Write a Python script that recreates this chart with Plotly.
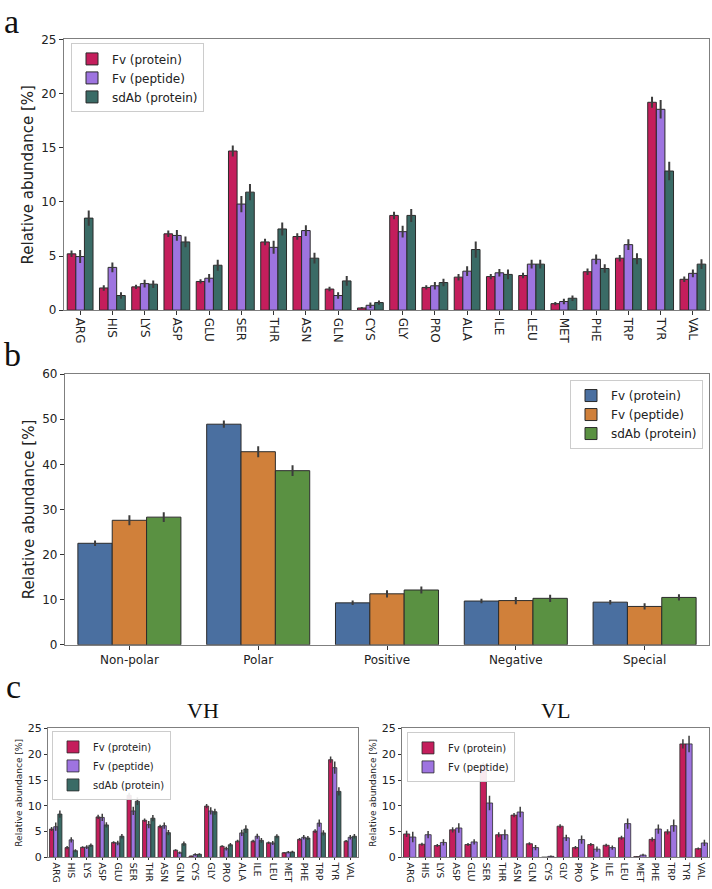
import plotly.graph_objects as go

aa = ["ARG","HIS","LYS","ASP","GLU","SER","THR","ASN","GLN","CYS",
      "GLY","PRO","ALA","ILE","LEU","MET","PHE","TRP","TYR","VAL"]

# Panel a: whole Fv / sdAb
a_fv_prot = [5.2,2.05,2.15,7.05,2.65,14.7,6.3,6.8,1.95,0.2,8.75,2.1,3.05,3.1,3.2,0.6,3.55,4.8,19.2,2.85]
a_fv_pep  = [4.95,3.95,2.45,6.9,2.95,9.8,5.8,7.35,1.35,0.45,7.25,2.25,3.6,3.45,4.25,0.8,4.7,6.05,18.55,3.4]
a_sdab    = [8.5,1.35,2.4,6.3,4.15,10.9,7.5,4.8,2.7,0.7,8.75,2.55,5.6,3.3,4.25,1.1,3.85,4.75,12.85,4.25]
a_fv_prot_err = [0.3,0.25,0.2,0.3,0.2,0.5,0.3,0.3,0.2,0.1,0.35,0.2,0.3,0.25,0.25,0.15,0.3,0.3,0.5,0.25]
a_fv_pep_err  = [0.6,0.45,0.35,0.5,0.4,0.75,0.6,0.5,0.3,0.25,0.55,0.35,0.45,0.35,0.4,0.25,0.45,0.5,0.85,0.35]
a_sdab_err    = [0.7,0.3,0.35,0.5,0.5,0.75,0.6,0.5,0.45,0.2,0.6,0.35,0.75,0.45,0.4,0.25,0.4,0.5,0.85,0.45]

# Panel b: residue classes
classes = ["Non-polar","Polar","Positive","Negative","Special"]
b_fv_prot = [22.5,48.9,9.3,9.7,9.45]
b_fv_pep  = [27.6,42.8,11.3,9.8,8.5]
b_sdab    = [28.3,38.6,12.15,10.3,10.5]
b_fv_prot_err = [0.6,0.8,0.5,0.5,0.5]
b_fv_pep_err  = [1.1,1.2,0.8,0.8,0.7]
b_sdab_err    = [1.1,1.2,0.8,0.8,0.7]

# Panel c: VH
vh_fv_prot = [5.5,1.9,1.95,7.85,2.9,12.05,7.2,6.0,1.4,0.25,9.95,2.15,3.15,3.15,2.85,0.9,3.5,5.1,18.95,3.15]
vh_fv_pep  = [5.95,3.4,2.0,7.75,2.8,9.0,6.35,6.15,0.9,0.55,9.0,1.7,4.75,4.1,2.8,1.0,3.9,6.65,17.4,3.9]
vh_sdab    = [8.4,1.3,2.35,6.3,4.1,10.9,7.6,4.8,2.65,0.6,8.85,2.45,5.5,3.3,4.1,1.05,3.75,4.75,12.8,4.1]
vh_fv_prot_err = [0.4,0.3,0.2,0.4,0.25,0.5,0.35,0.35,0.2,0.1,0.4,0.2,0.25,0.25,0.25,0.15,0.25,0.35,0.6,0.2]
vh_fv_pep_err  = [0.8,0.5,0.35,0.7,0.45,0.8,0.7,0.6,0.25,0.25,0.7,0.35,0.6,0.5,0.4,0.25,0.45,0.7,1.2,0.45]
vh_sdab_err    = [0.7,0.3,0.35,0.5,0.45,0.75,0.6,0.5,0.45,0.2,0.6,0.35,0.75,0.45,0.4,0.25,0.4,0.5,0.8,0.45]

# Panel c: VL
vl_fv_prot = [4.55,2.55,2.3,5.35,2.5,18.0,4.4,8.2,2.65,0.05,6.05,1.9,2.5,2.35,3.8,0.15,3.5,4.95,22.0,1.7]
vl_fv_pep  = [3.95,4.4,2.9,5.7,3.0,10.55,4.4,8.8,1.9,0.2,3.8,3.45,1.6,1.9,6.55,0.45,5.5,6.15,22.0,2.8]
vl_fv_prot_err = [0.6,0.3,0.3,0.5,0.3,0.4,0.5,0.4,0.3,0.05,0.4,0.3,0.3,0.3,0.4,0.1,0.4,0.5,0.9,0.2]
vl_fv_pep_err  = [1.0,0.7,0.6,0.9,0.5,1.4,1.0,1.0,0.5,0.15,0.6,0.8,0.5,0.4,1.0,0.25,0.9,1.2,1.6,0.6]

series_names = ["Fv (protein)", "Fv (peptide)", "sdAb (protein)"]
col_a = ["#C41E5C", "#9E74E0", "#3A6B66"]
col_b = ["#4A6FA0", "#D0803A", "#5A9142"]

W, H = 712, 889
def xd(x0, x1): return [x0 / W, x1 / W]
def yd(top, bot): return [1 - bot / H, 1 - top / H]

fig = go.Figure()

def add_bars(x, vals, errs, colors, xa, ya, legend, lw=1.0, ethick=2.0):
    for i, (v, e) in enumerate(zip(vals, errs)):
        fig.add_trace(go.Bar(
            x=x, y=v, name=series_names[i], xaxis=xa, yaxis=ya, legend=legend,
            marker=dict(color=colors[i], line=dict(color="#2b2b2b", width=lw)),
            error_y=dict(type="data", array=e, color="#3c3c3c", thickness=ethick, width=0),
        ))

add_bars(aa, [a_fv_prot, a_fv_pep, a_sdab], [a_fv_prot_err, a_fv_pep_err, a_sdab_err],
         col_a, "x", "y", "legend")
add_bars(classes, [b_fv_prot, b_fv_pep, b_sdab], [b_fv_prot_err, b_fv_pep_err, b_sdab_err],
         col_b, "x2", "y2", "legend2")
add_bars(aa, [vh_fv_prot, vh_fv_pep, vh_sdab], [vh_fv_prot_err, vh_fv_pep_err, vh_sdab_err],
         col_a, "x3", "y3", "legend3", lw=0.8, ethick=1.5)
add_bars(aa, [vl_fv_prot, vl_fv_pep], [vl_fv_prot_err, vl_fv_pep_err],
         col_a[:2], "x4", "y4", "legend4", lw=0.8, ethick=1.5)

axcommon = dict(showline=True, mirror=True, linecolor="#7f7f7f", linewidth=1.2,
                showgrid=False, zeroline=False, ticks="outside", tickcolor="#333",
                tickwidth=1)
tickfont = dict(family="DejaVu Sans", size=12, color="#222")
titlefont = dict(family="DejaVu Sans", size=15, color="#222")
smallfont = dict(family="DejaVu Sans", size=9.5, color="#222")
n_aa = len(aa)
n_cl = len(classes)

layout = dict(
    width=W, height=H, margin=dict(l=0, r=0, t=0, b=0),
    paper_bgcolor="white", plot_bgcolor="white",
    barmode="group", bargap=0.2, bargroupgap=0,
    showlegend=True,
    xaxis=dict(domain=xd(64, 709), anchor="y", tickangle=90, tickfont=tickfont,
               range=[-0.5, n_aa - 0.5], ticklen=4, **axcommon),
    yaxis=dict(domain=yd(33, 308), anchor="x", range=[0, 25], dtick=5, tickfont=tickfont,
               ticklen=4, automargin=True,
               title=dict(text="Relative abundance [%]", font=titlefont, standoff=3), **axcommon),
    xaxis2=dict(domain=xd(65, 709), anchor="y2", tickfont=tickfont,
                range=[-0.5, n_cl - 0.5], ticklen=4, **axcommon),
    yaxis2=dict(domain=yd(373, 648), anchor="x2", range=[0, 60], dtick=10, tickfont=tickfont,
                ticklen=4, automargin=True,
                title=dict(text="Relative abundance [%]", font=titlefont, standoff=3), **axcommon),
    xaxis3=dict(domain=xd(48, 358), anchor="y3", tickangle=90, tickfont=smallfont,
                range=[-0.5, n_aa - 0.5], ticklen=2, **axcommon),
    yaxis3=dict(domain=yd(733, 864), anchor="x3", range=[0, 25], dtick=5, ticklen=3,
                automargin=True,
                tickfont=dict(family="DejaVu Sans", size=11, color="#222"),
                title=dict(text="Relative abundance [%]",
                           font=dict(family="DejaVu Sans", size=9, color="#222"), standoff=3),
                **axcommon),
    xaxis4=dict(domain=xd(402, 709), anchor="y4", tickangle=90, tickfont=smallfont,
                range=[-0.5, n_aa - 0.5], ticklen=2, **axcommon),
    yaxis4=dict(domain=yd(733, 864), anchor="x4", range=[0, 25], dtick=5, ticklen=3,
                automargin=True,
                tickfont=dict(family="DejaVu Sans", size=11, color="#222"),
                title=dict(text="Relative abundance [%]",
                           font=dict(family="DejaVu Sans", size=9, color="#222"), standoff=3),
                **axcommon),
    legend=dict(x=71 / W, y=1 - 37 / H, xanchor="left", yanchor="top",
                bgcolor="rgba(255,255,255,0.9)", bordercolor="#cccccc", borderwidth=1,
                font=dict(family="DejaVu Sans", size=12, color="#222"), tracegroupgap=0),
    legend2=dict(x=703 / W, y=1 - 379 / H, xanchor="right", yanchor="top",
                 bgcolor="rgba(255,255,255,0.9)", bordercolor="#cccccc", borderwidth=1,
                 font=dict(family="DejaVu Sans", size=12, color="#222"), tracegroupgap=0),
    legend3=dict(x=52 / W, y=1 - 736 / H, xanchor="left", yanchor="top",
                 bgcolor="rgba(255,255,255,0.9)", bordercolor="#cccccc", borderwidth=1,
                 font=dict(family="DejaVu Sans", size=10, color="#222"), tracegroupgap=0),
    legend4=dict(x=407 / W, y=1 - 737 / H, xanchor="left", yanchor="top",
                 bgcolor="rgba(255,255,255,0.9)", bordercolor="#cccccc", borderwidth=1,
                 font=dict(family="DejaVu Sans", size=10, color="#222"), tracegroupgap=0),
)
fig.update_layout(**layout)

serif = "Liberation Serif"
annots = [
    dict(text="a", x=11 / W, y=1.0, size=34, anchor="top", yshift=6),
    dict(text="b", x=12 / W, y=1 - 353 / H, size=34, anchor="middle", yshift=0),
    dict(text="c", x=13 / W, y=1 - 690 / H, size=34, anchor="middle", yshift=0),
    dict(text="VH", x=203 / W, y=1 - 715 / H, size=22, anchor="middle", yshift=0),
    dict(text="VL", x=555 / W, y=1 - 715 / H, size=22, anchor="middle", yshift=0),
]
for a in annots:
    fig.add_annotation(text=a["text"], x=a["x"], y=a["y"], xref="paper", yref="paper",
                       xanchor="center", yanchor=a["anchor"], yshift=a["yshift"],
                       showarrow=False,
                       font=dict(family=serif, size=a["size"], color="#111"))

fig.write_html("out.html", config={"displayModeBar": False},
               post_script="document.body.style.margin='0';document.body.style.overflow='hidden';")
